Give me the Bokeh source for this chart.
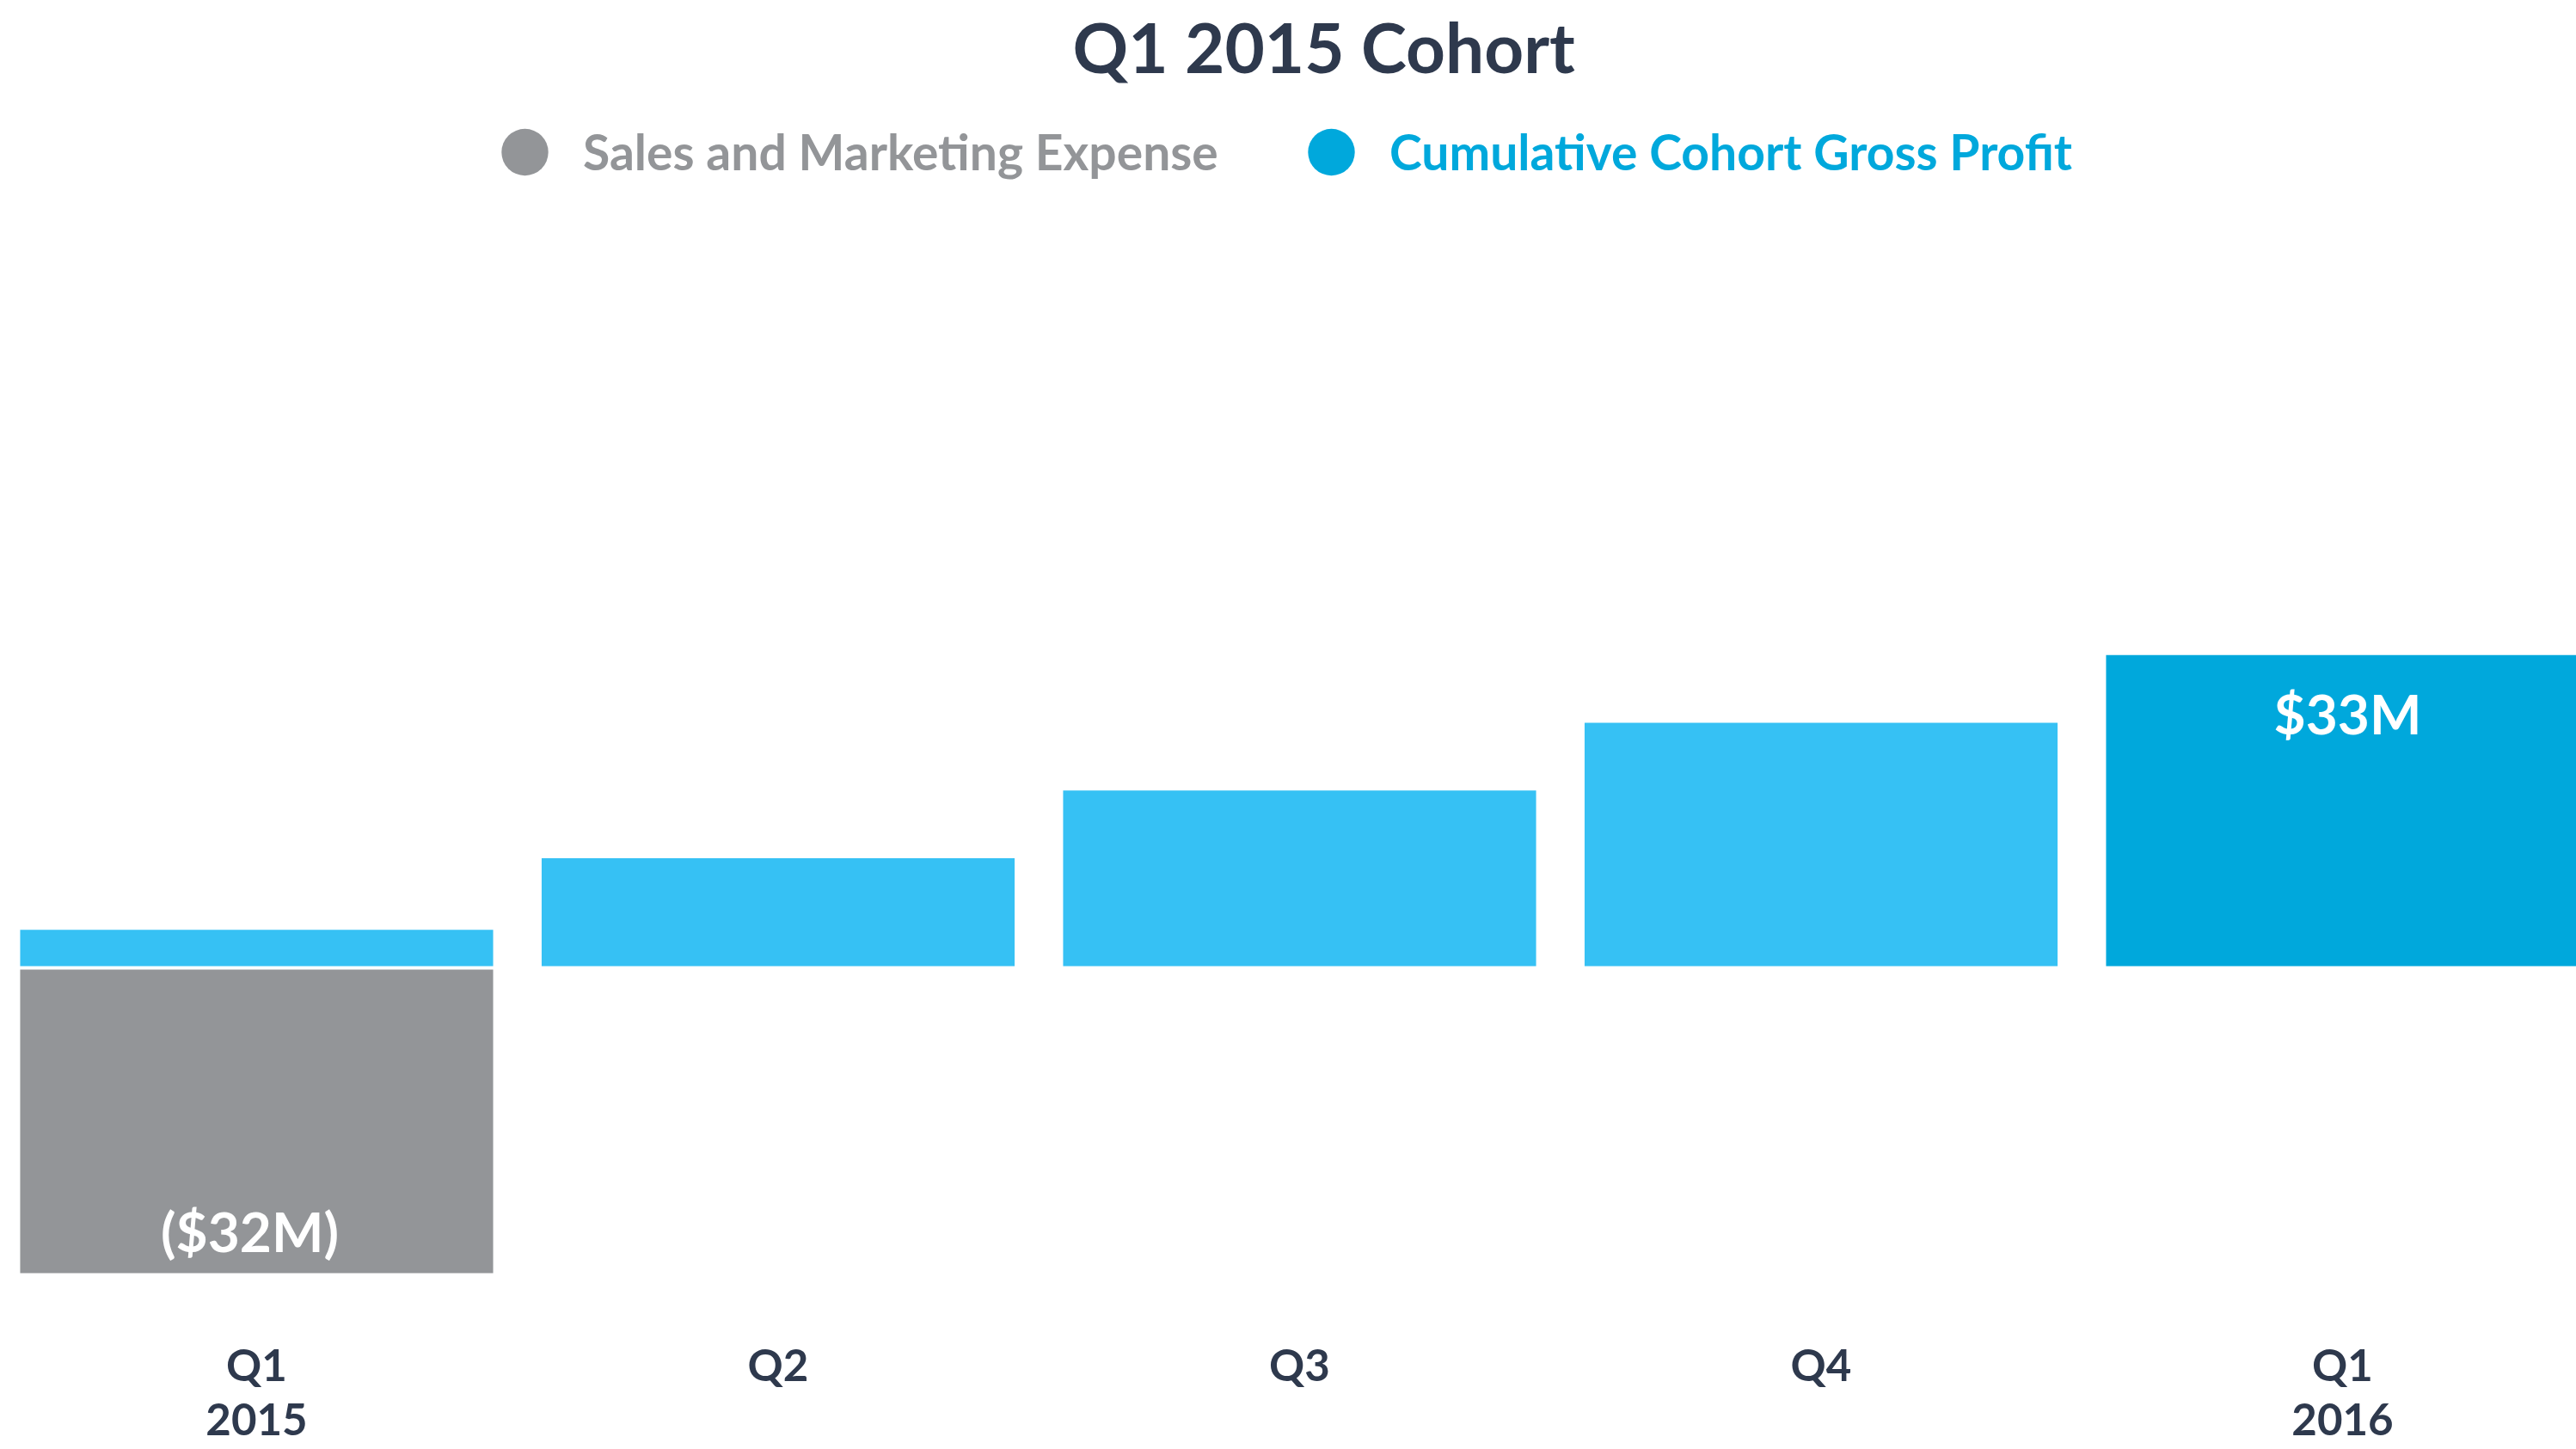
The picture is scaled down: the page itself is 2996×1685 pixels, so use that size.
from bokeh.plotting import figure
from bokeh.models import (ColumnDataSource, Range1d, FixedTicker, Span, Legend, LegendItem)
from bokeh.core.properties import value
from bokeh.embed import file_html
from bokeh.resources import INLINE

# ---- data ----
quarters = ["Q1\n2015", "Q2", "Q3", "Q4", "Q1\n2016"]
gross_profit = [4.0, 11.5, 18.6, 25.7, 32.8]          # cumulative cohort gross profit ($M)
sales_marketing = [-32.0]                              # S&M expense in Q1 2015 ($M)
gp_labels = ["", "", "", "", "$33M"]
sm_labels = ["($32M)"]
series_names = ["Sales and Marketing Expense", "Cumulative Cohort Gross Profit"]

FONT = "Lato"
NAVY = "#2e394d"
GRAY = "#939598"
LIGHT_BLUE = "#36c1f4"
DARK_BLUE = "#00a8dc"

W, H = 2996, 1685
xs = list(range(len(quarters)))
gp_colors = [LIGHT_BLUE] * (len(quarters) - 1) + [DARK_BLUE]

gp_src = ColumnDataSource(dict(x=xs, top=gross_profit, color=gp_colors, label=gp_labels))
sm_src = ColumnDataSource(dict(x=xs[:1], top=sales_marketing, label=sm_labels))

px_per_unit = 11.05
frame_top_px = 113.5     # page coordinate of frame top (below title panel)
frame_bot_px = H
zero_px = 1127
y0 = -(frame_bot_px - zero_px) / px_per_unit
y1 = (zero_px - frame_top_px) / px_per_unit
x0 = -298 / 606.5
x1 = x0 + W / 606.5

p = figure(width=W, height=H, output_backend="svg", toolbar_location=None,
           x_range=Range1d(x0, x1), y_range=Range1d(y0, y1),
           min_border_left=0, min_border_right=0, min_border_top=0, min_border_bottom=0,
           title="Q1 2015 Cohort")
p.outline_line_color = None
p.background_fill_color = "white"
p.border_fill_color = "white"
p.grid.visible = False
p.yaxis.visible = False

p.title.align = "left"
p.title.offset = 1247
p.title.vertical_align = "top"
p.title.text_font = FONT
p.title.text_font_size = "80px"
p.title.text_font_style = "bold"
p.title.text_color = NAVY

sm_r = p.vbar(x="x", top="top", bottom=0, width=0.907, source=sm_src,
              fill_color=GRAY, line_color=None)
gp_r = p.vbar(x="x", top="top", bottom=0, width=0.907, source=gp_src,
              fill_color="color", line_color=None)

# white separator at zero
p.add_layout(Span(location=0, dimension="width", line_color="white", line_width=4))

# value labels
p.text(x="x", y="top", text="label", source=gp_src, text_color="white",
       text_font=value(FONT), text_font_size="64px", text_font_style="bold",
       text_align="center", text_baseline="middle", x_offset=6, y_offset=68)
p.text(x="x", y="top", text="label", source=sm_src, text_color="white",
       text_font=value(FONT), text_font_size="64px", text_font_style="bold",
       text_align="center", text_baseline="middle", x_offset=-8, y_offset=-49)

# legend-only markers, placed far outside the visible range
leg_sm = p.scatter(x=[0], y=[1e6], fill_color=GRAY, line_color=None)
leg_gp = p.scatter(x=[0], y=[1e6], fill_color=DARK_BLUE, line_color=None)

for r, name, col, cx in [(leg_sm, series_names[0], GRAY, 610),
                         (leg_gp, series_names[1], DARK_BLUE, 1548)]:
    lg = Legend(items=[LegendItem(label=name, renderers=[r])],
                location=(cx - 68, frame_bot_px - (176 + 71.5)),
                orientation="horizontal",
                glyph_width=136, glyph_height=143, label_standoff=0,
                padding=0, margin=0, spacing=0,
                border_line_color=None, background_fill_alpha=0,
                label_text_font=FONT, label_text_font_size="57px",
                label_text_font_style="bold", label_text_color=col)
    p.add_layout(lg, "center")

# x axis drawn inside the frame at a fixed data location
axis_page_y = 1546
p.xaxis.fixed_location = -(axis_page_y - zero_px) / px_per_unit
p.xaxis.ticker = FixedTicker(ticks=xs)
p.xaxis.major_label_overrides = {i: q for i, q in zip(xs, quarters)}
p.xaxis.axis_line_color = None
p.xaxis.major_tick_line_color = None
p.xaxis.minor_tick_line_color = None
p.xaxis.major_tick_in = 0
p.xaxis.major_tick_out = 0
p.xaxis.major_label_standoff = 10
p.xaxis.major_label_text_font = FONT
p.xaxis.major_label_text_font_size = "51px"
p.xaxis.major_label_text_font_style = "bold"
p.xaxis.major_label_text_line_height = 1.03
p.xaxis.major_label_text_color = NAVY

open("out.html", "w").write(file_html(p, INLINE))
